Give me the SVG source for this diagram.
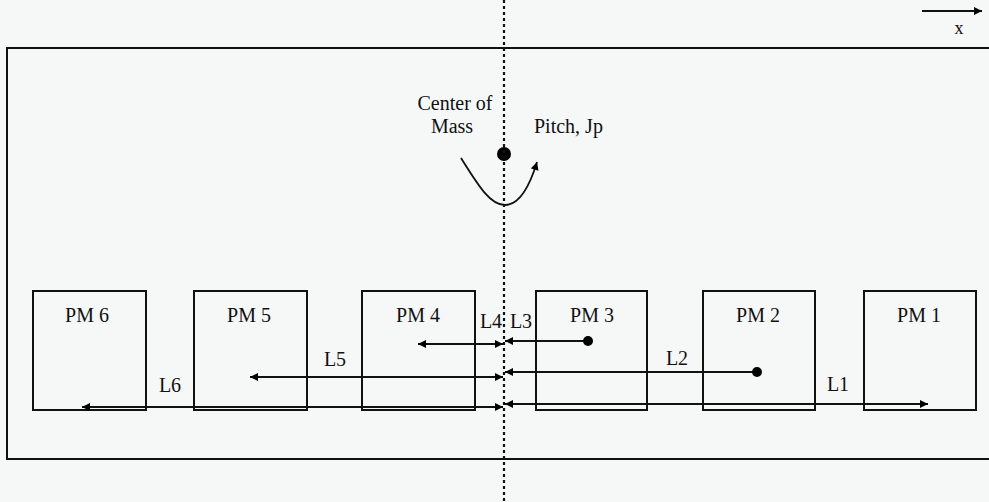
<svg xmlns="http://www.w3.org/2000/svg" width="989" height="502" viewBox="0 0 989 502">
<defs>
<marker id="ah" viewBox="0 0 10 10" refX="10" refY="5" markerWidth="11" markerHeight="8" markerUnits="userSpaceOnUse" orient="auto-start-reverse">
<path d="M0,0 L10,5 L0,10 z" fill="#000"/>
</marker>
<marker id="dot" viewBox="0 0 10 10" refX="5" refY="5" markerWidth="10" markerHeight="10" markerUnits="userSpaceOnUse">
<circle cx="5" cy="5" r="5" fill="#000"/>
</marker>
</defs>
<style>
.bg{fill:#f6f8f8}
.box{fill:none;stroke:#111;stroke-width:2}
.t{font-family:"Liberation Serif","Times New Roman",serif;font-size:20px;fill:#111}
.c{stroke:#111;stroke-width:1.8;fill:none}
.dash{stroke:#111;stroke-width:2.2;stroke-dasharray:3,3;fill:none}
</style>
<rect class="bg" x="0" y="0" width="989" height="502"/>
<rect id="frame" class="box" x="7" y="48" width="1000" height="411"/>
<g id="axis">
<line class="c" x1="922" y1="11" x2="982" y2="11" marker-end="url(#ah)"/>
<text class="t" x="959" y="34" text-anchor="middle" style="font-size:18px">x</text>
</g>
<g id="pm6"><rect class="box" x="33" y="291" width="113" height="119"/><text class="t" x="87" y="322" text-anchor="middle">PM 6</text></g>
<g id="pm5"><rect class="box" x="194" y="291" width="113" height="119"/><text class="t" x="249" y="322" text-anchor="middle">PM 5</text></g>
<g id="pm4"><rect class="box" x="362" y="291" width="113" height="119"/><text class="t" x="418" y="322" text-anchor="middle">PM 4</text></g>
<g id="pm3"><rect class="box" x="536" y="291" width="111" height="119"/><text class="t" x="592" y="322" text-anchor="middle">PM 3</text></g>
<g id="pm2"><rect class="box" x="703" y="291" width="112" height="119"/><text class="t" x="758" y="322" text-anchor="middle">PM 2</text></g>
<g id="pm1"><rect class="box" x="864" y="291" width="112" height="119"/><text class="t" x="919" y="322" text-anchor="middle">PM 1</text></g>
<g id="com">
<text class="t" x="455" y="110" text-anchor="middle">Center of</text>
<text class="t" x="452" y="133" text-anchor="middle">Mass</text>
<text class="t" x="534" y="133">Pitch, Jp</text>
<circle cx="504" cy="154" r="7" fill="#000"/>
<path class="c" d="M461,158 C478,185 490,205 505,205 C520,205 530,185 537,162" marker-end="url(#ah)"/>
</g>
<g id="connectors">
<line class="dash" x1="504" y1="0" x2="504" y2="502"/>
<line class="c" x1="418" y1="344" x2="503" y2="344" marker-start="url(#ah)" marker-end="url(#ah)"/>
<line class="c" x1="505" y1="341" x2="588" y2="341" marker-start="url(#ah)" marker-end="url(#dot)"/>
<line class="c" x1="250" y1="377" x2="503" y2="377" marker-start="url(#ah)" marker-end="url(#ah)"/>
<line class="c" x1="505" y1="372" x2="757" y2="372" marker-start="url(#ah)" marker-end="url(#dot)"/>
<line class="c" x1="82" y1="407" x2="503" y2="407" marker-start="url(#ah)" marker-end="url(#ah)"/>
<line class="c" x1="505" y1="404" x2="928" y2="404" marker-start="url(#ah)" marker-end="url(#ah)"/>
<text class="t" x="170" y="392" text-anchor="middle">L6</text>
<text class="t" x="335" y="366" text-anchor="middle">L5</text>
<text class="t" x="491" y="328" text-anchor="middle">L4</text>
<text class="t" x="521" y="328" text-anchor="middle">L3</text>
<text class="t" x="677" y="365" text-anchor="middle">L2</text>
<text class="t" x="838" y="391" text-anchor="middle">L1</text>
</g>
</svg>
